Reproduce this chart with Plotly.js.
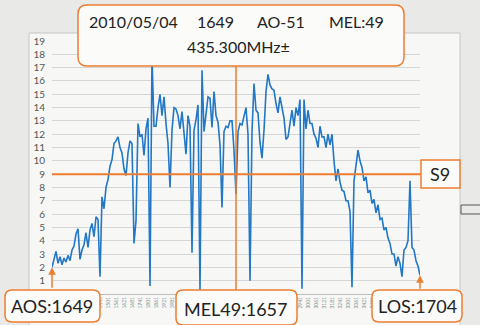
<!DOCTYPE html>
<html><head><meta charset="utf-8">
<script src="https://cdn.plot.ly/plotly-3.0.1.min.js"></script>
<style>html,body{margin:0;padding:0;background:#e9eae8;} #chart{width:480px;height:325px;}</style>
</head><body><div id="chart"></div>
<script>
// Signal level (S units) sampled uniformly during the AO-51 pass
const firstSample = 1081;
const sampleStep = 15;
const level = [
 2.0,2.7,3.2,2.3,2.8,2.2,2.7,2.4,2.9,2.5,
 3.3,3.6,4.5,4.9,2.6,3.3,3.7,4.6,3.5,4.8,
 5.3,4.3,5.8,5.6,1.3,7.3,6.4,8.0,8.6,9.6,
 10.1,11.3,11.5,11.8,11.0,10.6,9.4,8.9,10.6,11.5,
 11.3,3.8,5.5,12.8,11.8,12.0,10.4,12.4,13.2,0.6,
 17.8,12.6,12.6,14.0,15.0,13.4,14.8,12.8,11.3,8.0,
 12.3,14.0,13.9,13.4,12.4,13.7,12.1,10.5,13.4,12.6,
 3.1,12.3,13.1,14.2,0.2,16.8,12.2,13.6,14.8,14.7,
 12.5,15.2,13.4,12.9,11.2,6.5,12.2,12.6,12.5,13.0,
 13.0,10.8,7.5,12.2,12.8,12.7,13.4,14.0,12.0,1.0,
 12.2,15.8,13.8,13.6,11.4,10.2,12.3,15.2,16.5,15.7,
 15.4,15.3,14.3,13.6,14.8,14.0,13.2,11.6,11.8,12.8,
 13.8,12.6,14.0,13.4,14.6,0.4,14.6,12.4,13.8,12.8,
 12.8,12.0,11.7,11.0,12.6,11.8,11.8,11.0,12.0,11.2,
 12.0,10.0,8.5,9.4,8.4,7.8,7.7,7.0,7.0,6.2,
 0.5,8.5,9.8,10.8,10.0,9.5,8.5,8.8,7.6,7.8,
 6.8,7.1,6.1,6.7,5.6,5.7,4.8,5.0,4.2,3.8,
 3.0,3.0,2.1,2.8,2.3,1.3,3.3,3.5,4.0,8.5,
 3.5,3.3,2.5,2.1,1.4
];
const sampleNo = level.map((_, i) => firstSample + i * sampleStep);
const yTicks = [1,2,3,4,5,6,7,8,9,10,11,12,13,14,15,16,17,18,19];

const headerParts = ['2010/05/04', '1649', 'AO-51', 'MEL:49'];
const freqLabel = '435.300MHz\u00b1';
const s9Level = 9;
const s9Label = 'S9';
const aosLabel = 'AOS:1649';
const melLabel = 'MEL49:1657';
const losLabel = 'LOS:1704';
const melSample = 2461;

// layout geometry (pixels)
const L = 52, R = 420, T = 41, B = 294;
const X = p => (p - L) / (R - L);
const Y = p => (B - p) / (B - T);
function rr(x0, y0, x1, y1, r) {
  return `M${X(x0 + r)},${Y(y0)} L${X(x1 - r)},${Y(y0)} Q${X(x1)},${Y(y0)} ${X(x1)},${Y(y0 + r)} ` +
         `L${X(x1)},${Y(y1 - r)} Q${X(x1)},${Y(y1)} ${X(x1 - r)},${Y(y1)} L${X(x0 + r)},${Y(y1)} ` +
         `Q${X(x0)},${Y(y1)} ${X(x0)},${Y(y1 - r)} L${X(x0)},${Y(y0 + r)} Q${X(x0)},${Y(y0)} ${X(x0 + r)},${Y(y0)} Z`;
}
const ORANGE = '#ed7d31';
const FONT = 'Lato, "Open Sans", sans-serif';
const boxStyle = {type: 'path', xref: 'paper', yref: 'paper', fillcolor: '#fbfbf9', line: {color: ORANGE, width: 1.5}, layer: 'above'};

const shapes = [
  {type: 'rect', xref: 'paper', yref: 'paper', x0: X(29), x1: X(460), y0: Y(33), y1: Y(340), fillcolor: '#f7f8f5', line: {color: '#c4c5c3', width: 1}, layer: 'below'},
  {type: 'rect', xref: 'paper', yref: 'paper', x0: X(461), x1: X(482), y0: Y(205), y1: Y(214), fillcolor: 'rgba(0,0,0,0)', line: {color: '#555', width: 1}, layer: 'below'},
  {type: 'line', xref: 'paper', yref: 'y', x0: 0, x1: X(421), y0: s9Level, y1: s9Level, line: {color: ORANGE, width: 2}, layer: 'above'},
  {type: 'line', xref: 'x', yref: 'paper', x0: melSample, x1: melSample, y0: Y(291), y1: Y(65), line: {color: ORANGE, width: 1.5}, layer: 'above'},
  Object.assign({path: rr(78, 5, 404, 66, 9)}, boxStyle),
  Object.assign({path: rr(5, 290, 100, 322, 7)}, boxStyle),
  Object.assign({path: rr(176, 290, 297, 325, 7)}, boxStyle),
  Object.assign({path: rr(372, 290, 462, 322, 7)}, boxStyle),
  {type: 'rect', xref: 'paper', yref: 'paper', x0: X(421), x1: X(460), y0: Y(160), y1: Y(188), fillcolor: '#fbfbf9', line: {color: ORANGE, width: 1.5}, layer: 'above'}
];

const txt = (s, px, py, size) => ({text: s, xref: 'paper', yref: 'paper', x: X(px), y: Y(py), xanchor: 'center', yanchor: 'middle', showarrow: false, font: {family: FONT, size: size, color: '#222'}});
const headerX = [133, 215, 281, 356];
const annotations = headerParts.map((s, i) => txt(s, headerX[i], 22, 16));
annotations.push(txt(freqLabel, 238, 47, 16));
annotations.push(txt(aosLabel, 52, 306, 18));
annotations.push(txt(melLabel, 236, 309, 18));
annotations.push(txt(losLabel, 417, 306, 18));
annotations.push(txt(s9Label, 440, 174, 18));
annotations.push({x: sampleNo[0], y: level[0], xref: 'x', yref: 'y', ax: 0, ay: 22, text: '', showarrow: true, arrowhead: 2, arrowsize: 1, arrowwidth: 1.5, arrowcolor: ORANGE});
annotations.push({x: sampleNo[sampleNo.length - 1], y: level[level.length - 1], xref: 'x', yref: 'y', ax: 0, ay: 15, text: '', showarrow: true, arrowhead: 2, arrowsize: 1, arrowwidth: 1.5, arrowcolor: ORANGE});

const trace = {x: sampleNo, y: level, type: 'scatter', mode: 'lines', line: {color: '#2277c6', width: 1.6}, hoverinfo: 'skip'};

const layout = {
  width: 480, height: 325,
  margin: {l: L, r: 480 - R, t: T, b: 325 - B, pad: 0},
  paper_bgcolor: '#e9eae8', plot_bgcolor: 'rgba(0,0,0,0)',
  showlegend: false,
  font: {family: FONT},
  xaxis: {range: [firstSample, firstSample + sampleStep * (level.length - 1)], tick0: 1441, dtick: 60, tickangle: -90,
          tickfont: {size: 5, color: '#8a8a8a'}, showgrid: false, zeroline: false, showline: true, linecolor: '#bdbdbd', ticks: ''},
  yaxis: {range: [0, 19], tickmode: 'array', tickvals: yTicks, tickfont: {size: 10, color: '#555'}, gridcolor: '#d6d6d6', gridwidth: 1,
          zeroline: false, showline: false, ticks: '', ticklabelstandoff: 6},
  shapes: shapes,
  annotations: annotations
};
Plotly.newPlot('chart', [trace], layout, {staticPlot: true, displayModeBar: false});
</script></body></html>
